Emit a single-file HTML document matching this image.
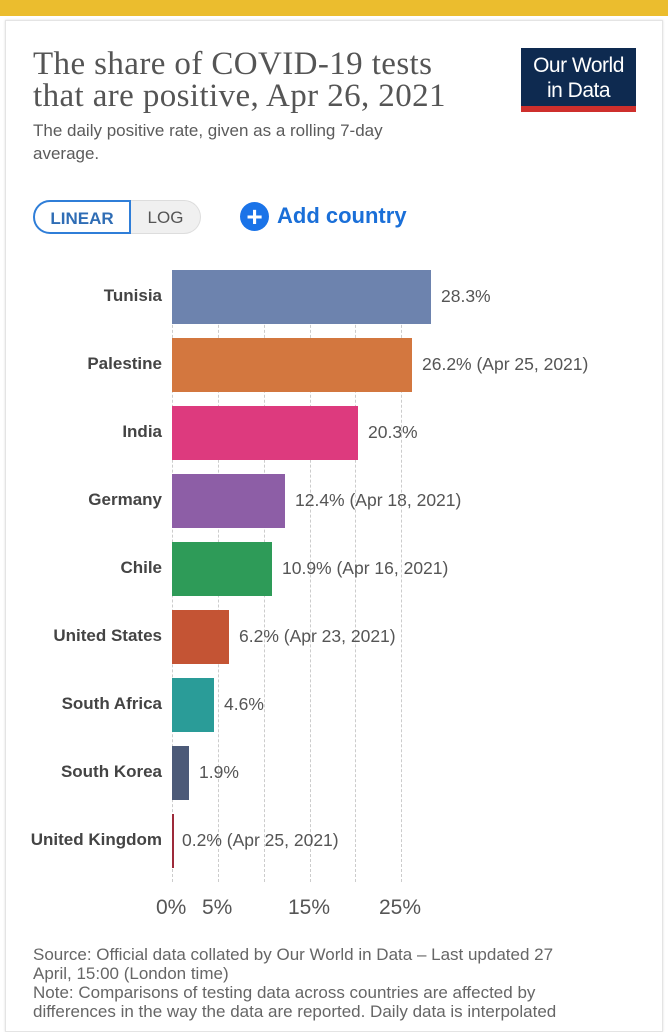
<!DOCTYPE html>
<html><head><meta charset="utf-8"><style>
body{margin:0;width:668px;height:1024px;background:#fff;overflow:hidden;position:relative;font-family:"Liberation Sans",sans-serif}
.top{position:absolute;left:0;top:0;width:668px;height:16px;background:#ebbd2e}
.card{position:absolute;left:5px;top:20px;width:656px;height:1010px;border:1px solid #e4e4e4;box-shadow:0 0 2px #ddd}
.t{position:absolute;left:33px;top:48px;font-family:"Liberation Serif",serif;font-size:33px;line-height:32px;color:#555;letter-spacing:0.4px}
.s{position:absolute;left:33px;top:119px;font-size:17px;line-height:23px;color:#5b5b5b}
.logo{position:absolute;left:521px;top:48px;width:115px;height:64px;background:#0e2a50;color:#fff;font-size:21px;line-height:25px;text-align:center;padding-top:5px;box-sizing:border-box;letter-spacing:-0.5px}
.logo:after{content:"";position:absolute;left:0;bottom:0;width:100%;height:6px;background:#ce2f2c}
.btn{position:absolute;top:200px;height:34px;font-size:17px;line-height:34px;text-align:center;font-weight:bold;box-sizing:border-box}
.lbl{position:absolute;right:506px;font-size:17px;font-weight:bold;color:#444;text-align:right;white-space:nowrap}
.val{position:absolute;font-size:17.5px;color:#555;white-space:nowrap}
.bar{position:absolute;left:172px;height:54px}
.grid{position:absolute;top:270px;height:612px;border-left:1px dashed #ccc}
.tick{position:absolute;top:896px;font-size:21px;color:#555}
.foot{position:absolute;left:33px;top:945px;font-size:17px;line-height:19px;color:#666;width:565px}
</style></head><body>
<div class="top"></div><div class="card"></div>
<div class="t">The share of COVID-19 tests<br>that are positive, Apr 26, 2021</div>
<div class="s">The daily positive rate, given as a rolling 7-day<br>average.</div>
<div class="logo">Our World<br>in Data</div>
<div class="btn" style="left:33px;width:98px;border:2px solid #2f7ed8;border-radius:17px 0 0 17px;color:#2f6db5">LINEAR</div>
<div class="btn" style="left:131px;width:70px;border:1px solid #ddd;border-left:none;border-radius:0 17px 17px 0;background:#f0f0f0;color:#555;font-weight:normal">LOG</div>
<div style="position:absolute;left:240px;top:202px;width:29px;height:29px;border-radius:50%;background:#1a73e8;color:#fff;font-size:28px;line-height:29px;text-align:center;font-weight:bold">+</div>
<div style="position:absolute;left:277px;top:200px;font-size:22px;line-height:32px;font-weight:bold;color:#1a6fd8">Add country</div>

<div class="grid" style="left:172px"></div>
<div class="grid" style="left:218px"></div>
<div class="grid" style="left:264px"></div>
<div class="grid" style="left:310px"></div>
<div class="grid" style="left:355px"></div>
<div class="grid" style="left:401px"></div>

<div class="bar" style="top:270px;width:259px;background:#6d83ae"></div>
<div class="bar" style="top:338px;width:240px;background:#d3773f"></div>
<div class="bar" style="top:406px;width:186px;background:#dd3a7e"></div>
<div class="bar" style="top:474px;width:113px;background:#8d5ea6"></div>
<div class="bar" style="top:542px;width:100px;background:#2e9b58"></div>
<div class="bar" style="top:610px;width:57px;background:#c45434"></div>
<div class="bar" style="top:678px;width:42px;background:#2a9c98"></div>
<div class="bar" style="top:746px;width:17px;background:#4c5a78"></div>
<div class="bar" style="top:814px;width:2px;background:#9d2a3a"></div>

<div class="lbl" style="top:286px">Tunisia</div>
<div class="lbl" style="top:354px">Palestine</div>
<div class="lbl" style="top:422px">India</div>
<div class="lbl" style="top:490px">Germany</div>
<div class="lbl" style="top:558px">Chile</div>
<div class="lbl" style="top:626px">United States</div>
<div class="lbl" style="top:694px">South Africa</div>
<div class="lbl" style="top:762px">South Korea</div>
<div class="lbl" style="top:830px">United Kingdom</div>

<div class="val" style="left:441px;top:286px">28.3%</div>
<div class="val" style="left:422px;top:354px">26.2% (Apr 25, 2021)</div>
<div class="val" style="left:368px;top:422px">20.3%</div>
<div class="val" style="left:295px;top:490px">12.4% (Apr 18, 2021)</div>
<div class="val" style="left:282px;top:558px">10.9% (Apr 16, 2021)</div>
<div class="val" style="left:239px;top:626px">6.2% (Apr 23, 2021)</div>
<div class="val" style="left:224px;top:694px">4.6%</div>
<div class="val" style="left:199px;top:762px">1.9%</div>
<div class="val" style="left:182px;top:830px">0.2% (Apr 25, 2021)</div>

<div class="tick" style="left:156px">0%</div>
<div class="tick" style="left:202px">5%</div>
<div class="tick" style="left:288px">15%</div>
<div class="tick" style="left:379px">25%</div>

<div class="foot">Source: Official data collated by Our World in Data – Last updated 27<br>April, 15:00 (London time)<br>Note: Comparisons of testing data across countries are affected by<br>differences in the way the data are reported. Daily data is interpolated</div>
</body></html>
